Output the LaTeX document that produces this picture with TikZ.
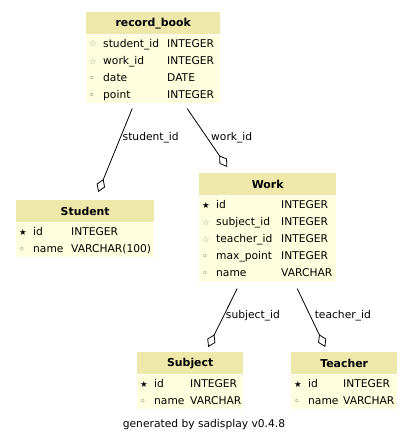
\documentclass[tikz,border=0pt]{standalone}
\usepackage{fontspec}
\setmainfont{DejaVu Sans}
\usepackage{xcolor}
\usepackage{tikz}
\usetikzlibrary{
  positioning,
  arrows.meta
}
\definecolor{HeadFill}{RGB}{238,232,170}
\definecolor{BodyFill}{RGB}{255,255,224}
\definecolor{KeyGray}{RGB}{150,150,150}
\newcommand{\pkey}{{\fontsize{8.5}{8}\selectfont\raisebox{0.3pt}{★}}}
\newcommand{\fkey}{{\fontsize{8.5}{8}\selectfont\color{KeyGray}\raisebox{0.3pt}{☆}}}
\newcommand{\attr}{{\fontsize{9.5}{8}\selectfont\color{black!80}◦}}
% one field row: symbol, name column width, name, type
\newcommand{\fld}[4]{\strut\makebox[17pt][l]{\hspace{3pt}#1}\makebox[#2][l]{#3}#4}

\begin{document}
\begin{tikzpicture}[
  x=1pt,y=-1pt,
  font=\fontsize{10.7}{13}\selectfont,
  tblhead/.style={fill=HeadFill,anchor=north west,inner sep=0pt,
    minimum height=22pt,font=\fontsize{10.9}{13}\selectfont\bfseries},
  tblbody/.style={fill=BodyFill,anchor=north west,inner sep=0pt,align=left,
    yshift=-0.8pt,font=\fontsize{10.7}{17}\selectfont},
  ref/.style={-{Diamond[open,length=14pt,width=9pt]},line width=0.8pt},
  lbl/.style={anchor=west,inner sep=2pt},
]
\useasboundingbox (0,0) rectangle (413,444);

% —— tables ——
\node[tblhead,minimum width=134pt] (rb-h) at (86,12) {record\_book};
\node[tblbody,text width=134pt,minimum height=68pt] (rb) at (rb-h.south west)
  {\fld{\fkey}{64pt}{student\_id}{INTEGER}\\ \fld{\fkey}{64pt}{work\_id}{INTEGER}\\
   \fld{\attr}{64pt}{date}{DATE}\\ \fld{\attr}{64pt}{point}{INTEGER}};

\node[tblhead,minimum width=138pt] (st-h) at (16,200) {Student};
\node[tblbody,text width=138pt,minimum height=34pt] (st) at (st-h.south west)
  {\fld{\pkey}{38pt}{id}{INTEGER}\\ \fld{\attr}{38pt}{name}{VARCHAR(100)}};

\node[tblhead,minimum width=137pt] (wk-h) at (199,173) {Work};
\node[tblbody,text width=137pt,minimum height=86pt] (wk) at (wk-h.south west)
  {\fld{\pkey}{65pt}{id}{INTEGER}\\ \fld{\fkey}{65pt}{subject\_id}{INTEGER}\\
   \fld{\fkey}{65pt}{teacher\_id}{INTEGER}\\ \fld{\attr}{65pt}{max\_point}{INTEGER}\\
   \fld{\attr}{65pt}{name}{VARCHAR}};

\node[tblhead,minimum width=106pt] (sj-h) at (137,352) {Subject};
\node[tblbody,text width=106pt,minimum height=34pt] (sj) at (sj-h.south west)
  {\fld{\pkey}{36pt}{id}{INTEGER}\\ \fld{\attr}{36pt}{name}{VARCHAR}};

\node[tblhead,minimum width=106pt] (tc-h) at (291,352) {Teacher};
\node[tblbody,text width=106pt,minimum height=34pt] (tc) at (tc-h.south west)
  {\fld{\pkey}{35pt}{id}{INTEGER}\\ \fld{\attr}{35pt}{name}{VARCHAR}};

\node (gen) at (204,425) {generated by sadisplay v0.4.8};

% —— references ——
\draw[ref] ([xshift=-21pt,yshift=-5pt]rb.south)
  -- node[lbl,pos=.35]{student\_id} ([xshift=13pt,yshift=8pt]st-h.north);
\draw[ref] ([xshift=34pt,yshift=-5pt]rb.south)
  -- node[lbl,pos=.49,xshift=2pt]{work\_id} ([xshift=-40.5pt,yshift=6pt]wk-h.north);
\draw[ref] ([xshift=-30.5pt,yshift=-6pt]wk.south)
  -- node[lbl,pos=.47]{subject\_id} ([xshift=18pt,yshift=5pt]sj-h.north);
\draw[ref] ([xshift=29.5pt,yshift=-6pt]wk.south)
  -- node[lbl,pos=.47,xshift=2pt]{teacher\_id} ([xshift=-19pt,yshift=5pt]tc-h.north);
\end{tikzpicture}
\end{document}
